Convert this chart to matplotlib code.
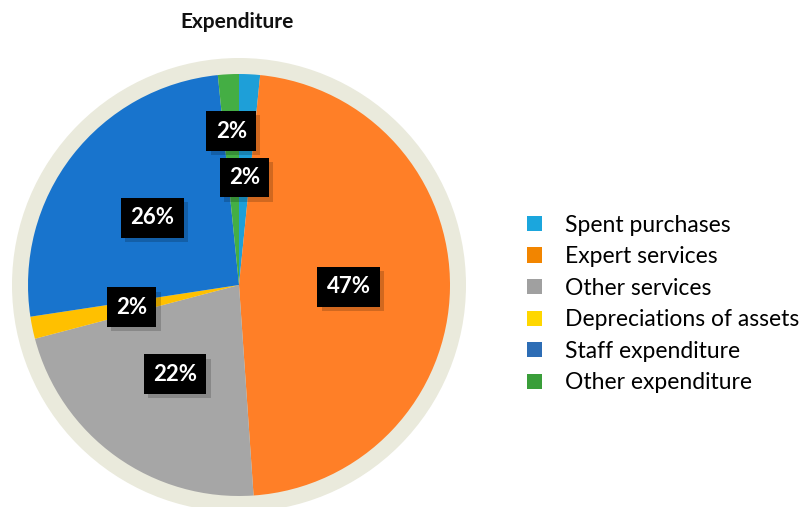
import matplotlib
matplotlib.use("Agg")
import matplotlib.pyplot as plt
import matplotlib.patheffects as pe
from matplotlib.patches import Circle, Patch
import numpy as np

categories = ["Spent purchases", "Expert services", "Other services",
              "Depreciations of assets", "Staff expenditure", "Other expenditure"]
values = [1.6, 47.3, 22.0, 1.7, 25.8, 1.6]
pct_labels = ["2%", "47%", "22%", "2%", "26%", "2%"]
pie_colors = ["#1E9FD8", "#FF7F27", "#A6A6A6", "#FFC000", "#1874CD", "#44AE44"]
legend_colors = ["#1BA6DD", "#F28500", "#A0A0A0", "#FFD700", "#2D6DB5", "#3A9E3A"]
label_dist = [0.51, 0.52, 0.52, 0.52, 0.52, 0.73]

W, H = 812, 507
fig = plt.figure(figsize=(W / 100, H / 100), dpi=100)
ax = fig.add_axes([0, 0, 1, 1])

cx, cy = 239, H - 285
R = 211
ax.add_patch(Circle((cx, cy), 227, facecolor="#EAEADC", edgecolor="none", zorder=0))
wedges, _ = ax.pie(values, colors=pie_colors, startangle=90, counterclock=False,
                   radius=R, center=(cx, cy), frame=True,
                   wedgeprops=dict(linewidth=0))
ax.set_xlim(0, W)
ax.set_ylim(0, H)
ax.set_aspect("equal")
ax.axis("off")

for w, lab, d in zip(wedges, pct_labels, label_dist):
    ang = np.deg2rad((w.theta1 + w.theta2) / 2)
    x = cx + d * R * np.cos(ang)
    y = cy + d * R * np.sin(ang)
    t = ax.text(x, y, lab, ha="center", va="center", color="white",
                fontsize=16, fontweight="bold", family="Lato", zorder=5,
                bbox=dict(boxstyle="square,pad=0.42", facecolor="black", edgecolor="none"))
    t.get_bbox_patch().set_path_effects([
        pe.SimplePatchShadow(offset=(3, -3), shadow_rgbFace="black", alpha=0.18),
        pe.Normal()])

ax.text(237, H - 22, "Expenditure", ha="center", va="center", fontsize=15,
        fontweight="bold", family="Lato", color="#111111")

handles = [Patch(facecolor=c, edgecolor="none") for c in legend_colors]
ax.legend(handles, categories, loc="center left", bbox_to_anchor=(527 / W, 1 - 304 / H),
          frameon=False, prop={"family": "Lato", "size": 16.5},
          handlelength=0.65, handleheight=0.65, handletextpad=1.0, labelspacing=0.46,
          borderaxespad=0, borderpad=0)

fig.savefig("out.png", dpi=100)
